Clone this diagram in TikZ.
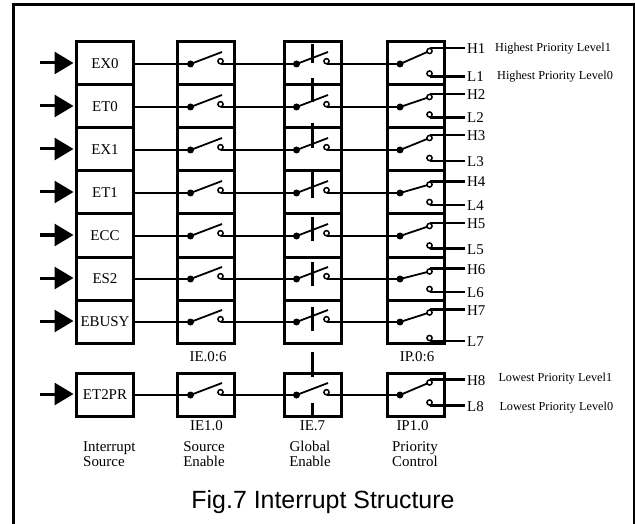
\documentclass[tikz,border=0pt]{standalone}
\usepackage{fontspec}
\setmainfont{Liberation Serif}
\newfontfamily\titlefont{Liberation Sans}
\usetikzlibrary{arrows.meta}
\begin{document}
\begin{tikzpicture}[x=1bp,y=-1bp,
  cell/.style={draw, line width=3bp, minimum width=57bp, minimum height=43bp, inner sep=0pt, font=\fontsize{15}{15}\selectfont},
  wire/.style={line width=2bp},
  blade/.style={line width=1.8bp},
  ring/.style={line width=1.5bp, fill=white},
  hl/.style={line width=2.5bp},
  inarrow/.style={line width=3bp, -{Triangle[length=19bp,width=22bp]}},
  lbl/.style={inner sep=0pt, font=\fontsize{15}{15}\selectfont},
  note/.style={inner sep=0pt, font=\fontsize{12.3}{12.3}\selectfont},
  bar/.style={line width=3bp},
  frame/.style={line width=3bp}
]
\useasboundingbox (0,0) rectangle (635,524);
\draw[frame] (13.5,530) -- (13.5,5) -- (634,5) -- (634,530);

\foreach \i/\ty/\hy/\ly/\lab in {1/42/48/76.5/EX0, 2/85/94/117.5/ET0, 3/128/135/161/EX1, 4/171/181.5/205/ET1, 5/214/223/248.5/ECC, 6/257/268.5/292/ES2, 7/300/309.5/341/EBUSY, 8/373/379.5/405.5/ET2PR}{
  \pgfmathsetmacro\yr{\ty+22}
  \pgfmathsetmacro\yc{\ty+21.5}
  \node[cell] (src\i) at (105,\yc) {\lab};
  \node[cell] (se\i) at (206,\yc) {};
  \node[cell] (ge\i) at (312.5,\yc) {};
  \node[cell] (pc\i) at (416,\yc) {};
  \coordinate (in\i) at (40,\yr-1);
  \coordinate (d2\i) at (190.5,\yr);
  \coordinate (b2\i) at (222,\yr-12);
  \coordinate (c2\i) at (220.5,\yr-2.8);
  \coordinate (o2\i) at (220.5,\yr);
  \coordinate (d3\i) at (296.5,\yr);
  \coordinate (b3\i) at (328,\yr-12);
  \coordinate (c3\i) at (326.5,\yr-2.8);
  \coordinate (o3\i) at (326.5,\yr);
  \coordinate (d4\i) at (400,\yr);
  \coordinate (u\i) at (429.5,\hy+3);
  \coordinate (w\i) at (429.5,\ly-3);
  \coordinate (ht\i) at (429.5,\hy);
  \coordinate (lt\i) at (429.5,\ly);
  \node[lbl, anchor=base west] (h\i) at (467,\hy+5.5) {H\i};
  \node[lbl, anchor=base west] (l\i) at (467,\ly+5.5) {L\i};
  \draw[inarrow, shorten >=1.5bp] (in\i) -- (in\i -| src\i.west);
  \draw[wire] (src\i.east |- d2\i) -- (d2\i);
  \draw[wire] (o2\i) -- (d3\i);
  \draw[wire] (o3\i) -- (d4\i);
  \draw[blade] (d2\i) -- (b2\i);
  \draw[blade] (d3\i) -- (b3\i);
  \draw[blade] (d4\i) -- (u\i);
  \draw[hl, shorten >=2bp] (ht\i) -- (h\i.west |- ht\i);
  \draw[hl, shorten >=2bp] (lt\i) -- (l\i.west |- lt\i);
  \fill (d2\i) circle (3.5bp);
  \fill (d3\i) circle (3.5bp);
  \fill (d4\i) circle (3.5bp);
  \draw[ring] (c2\i) circle (2.6bp);
  \draw[ring] (c3\i) circle (2.6bp);
  \draw[ring] (u\i) circle (2.6bp);
  \draw[ring] (w\i) circle (2.6bp);
}

\foreach \a/\b in {44/63, 78/102, 123/148, 170/198, 217/241, 262/286, 307/331, 352/377, 403/417}
  \draw[bar] (312.5,\a) -- (312.5,\b);

\node[lbl, anchor=base] (ie06) at (208,361) {IE.0:6};
\node[lbl, anchor=base] (ip06) at (417,361.5) {IP.0:6};
\node[lbl, anchor=base] (ie10) at (206.5,430.7) {IE1.0};
\node[lbl, anchor=base] (ie7) at (312.5,430.7) {IE.7};
\node[lbl, anchor=base] (ip10) at (412.5,430.7) {IP1.0};

\node[lbl, anchor=base west] (is1) at (83,451.7) {Interrupt};
\node[lbl, anchor=base west] (is2) at (83,466.7) {Source};
\node[lbl, anchor=base] (se1t) at (204,451.7) {Source};
\node[lbl, anchor=base] (se2t) at (204,466.7) {Enable};
\node[lbl, anchor=base] (ge1t) at (310,451.7) {Global};
\node[lbl, anchor=base] (ge2t) at (310,466.7) {Enable};
\node[lbl, anchor=base] (pc1t) at (415,451.7) {Priority};
\node[lbl, anchor=base] (pc2t) at (415,466.7) {Control};

\node[note, anchor=base west] (n1) at (495,52) {Highest Priority Level1};
\node[note, anchor=base west] (n2) at (497,80) {Highest Priority Level0};
\node[note, anchor=base west] (n3) at (498.3,381.7) {Lowest Priority Level1};
\node[note, anchor=base west] (n4) at (499.3,410) {Lowest Priority Level0};

\node[inner sep=0pt, anchor=base, font=\titlefont\fontsize{25}{25}\selectfont] (title) at (323,508.3) {Fig.7 Interrupt Structure};
\end{tikzpicture}
\end{document}
